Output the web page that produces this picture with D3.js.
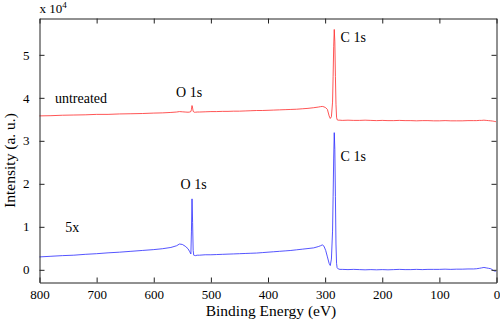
<!DOCTYPE html>
<html>
<head>
<meta charset="utf-8">
<script src="https://cdn.jsdelivr.net/npm/d3@7"></script>
<style>
  body { margin: 0; background: #fff; }
</style>
</head>
<body>
<svg id="chart" width="500" height="320"></svg>
<script>
// binding energy (eV), shared by both spectra
const energy = [800, 780, 760, 740, 720, 700, 680, 660, 640, 620, 600, 585, 570, 560, 555, 550, 545, 540, 537, 535, 534, 533, 532, 531, 530, 529, 527, 524, 520, 510, 500, 490, 480, 470, 460, 450, 440, 430, 420, 410, 400, 390, 380, 370, 360, 350, 340, 330, 320, 312, 308, 305, 302, 299, 296, 293, 291, 289, 287, 286, 285, 284, 283, 282, 281, 280, 279, 277, 274, 270, 260, 250, 240, 230, 220, 210, 200, 190, 180, 170, 160, 150, 140, 130, 120, 110, 100, 90, 80, 70, 60, 50, 40, 35, 30, 26, 22, 18, 14, 10, 7, 5, 3, 1];

// untreated spectrum (counts)
const untreated = [35800, 35850, 35950, 36000, 36050, 36150, 36150, 36250, 36300, 36350, 36450, 36500, 36600, 36700, 36800, 36750, 36700, 36650, 36700, 36800, 37300, 38200, 37600, 36900, 36700, 36650, 36650, 36700, 36700, 36750, 36800, 36800, 36850, 36850, 36900, 36900, 36950, 37000, 37050, 37050, 37100, 37150, 37200, 37250, 37300, 37350, 37450, 37550, 37700, 37850, 37950, 38000, 37900, 37700, 37300, 35800, 35200, 35600, 39000, 45000, 52000, 55900, 53000, 45000, 38500, 35500, 34900, 34800, 34800, 34750, 34800, 34750, 34750, 34800, 34750, 34700, 34750, 34700, 34700, 34750, 34700, 34700, 34650, 34700, 34700, 34650, 34650, 34700, 34650, 34650, 34650, 34700, 34700, 34700, 34750, 34750, 34800, 34750, 34700, 34650, 34600, 34550, 34500, 34450];

// 5x treated spectrum (counts)
const treated5x = [3000, 3150, 3300, 3400, 3600, 3750, 3950, 4100, 4300, 4500, 4700, 4900, 5200, 5600, 6000, 5900, 5500, 4900, 4200, 3700, 9000, 16500, 11000, 4500, 3400, 3350, 3300, 3400, 3400, 3500, 3500, 3550, 3600, 3650, 3700, 3750, 3800, 3850, 3900, 4000, 4100, 4200, 4300, 4400, 4500, 4650, 4800, 4950, 5100, 5400, 5600, 5800, 5500, 4500, 3000, 1500, 1000, 2500, 9000, 17000, 26000, 31900, 28000, 17000, 6000, 1500, 500, 200, 100, 100, 50, 100, 50, 0, 50, 0, 50, 0, 50, 100, 50, 50, 100, 50, 100, 100, 100, 150, 100, 150, 150, 200, 200, 250, 350, 450, 550, 450, 350, 250, 0, -200, -300, -300];

const xTicks = [800, 700, 600, 500, 400, 300, 200, 100, 0];
const yTicks = [0, 10000, 20000, 30000, 40000, 50000];

// peak / sample annotations
const labelText = ['C 1s', 'C 1s', 'O 1s', 'O 1s', 'untreated', '5x'];
const labelEnergy = [273, 273, 561, 553, 773, 755];
const labelValue = [53100, 25200, 40300, 18900, 38700, 8900];

const svg = d3.select('#chart');
const margin = { top: 18.5, right: 3.5, bottom: 37.5, left: 39.5 };
const W = 500, H = 320;
const serifStyle = 'font-family: "Liberation Serif"';

const x = d3.scaleLinear([800, 0], [margin.left, W - margin.right]);
const y = d3.scaleLinear([-2950, 58450], [H - margin.bottom, margin.top]);

const axisColor = '#222';
const tickLen = 5;

// spectra
const line = d3.line()
  .x((d, i) => x(energy[i]))
  .y(d => y(d));

const plot = svg.append('g').attr('class', 'lines');
plot.append('path')
  .attr('d', line(untreated))
  .attr('fill', 'none')
  .attr('stroke', '#ff2a2a')
  .attr('stroke-width', 0.8);
plot.append('path')
  .attr('d', line(treated5x))
  .attr('fill', 'none')
  .attr('stroke', '#2a2aff')
  .attr('stroke-width', 0.8);

// axes, ticks inward, box on
const axes = svg.append('g').attr('class', 'axes');
const styleAxis = g => {
  g.select('.domain').attr('stroke', axisColor);
  g.selectAll('.tick line').attr('stroke', axisColor);
  g.selectAll('.tick text')
    .attr('style', serifStyle)
    .attr('fill', '#000')
    .attr('font-size', 13);
};

axes.append('g')
  .attr('transform', `translate(0,${H - margin.bottom})`)
  .call(d3.axisBottom(x).tickValues(xTicks).tickSizeInner(-tickLen).tickSizeOuter(0).tickPadding(7).tickFormat(d3.format('d')))
  .call(styleAxis);
axes.append('g')
  .attr('transform', `translate(0,${margin.top})`)
  .call(d3.axisTop(x).tickValues(xTicks).tickSizeInner(-tickLen).tickSizeOuter(0).tickFormat(''))
  .call(styleAxis);
axes.append('g')
  .attr('transform', `translate(${margin.left},0)`)
  .call(d3.axisLeft(y).tickValues(yTicks).tickSizeInner(-tickLen).tickSizeOuter(0).tickPadding(10).tickFormat(d => d / 10000))
  .call(styleAxis);
axes.append('g')
  .attr('transform', `translate(${W - margin.right},0)`)
  .call(d3.axisRight(y).tickValues(yTicks).tickSizeInner(-tickLen).tickSizeOuter(0).tickFormat(''))
  .call(styleAxis);

// exponent marker
const expo = svg.append('text')
  .attr('x', margin.left)
  .attr('y', 13)
  .attr('style', serifStyle)
  .attr('font-size', 13)
  .attr('fill', '#000');
expo.append('tspan').text('x 10');
expo.append('tspan').attr('dy', -5).attr('font-size', 9).text('4');

// axis titles
svg.append('text')
  .attr('x', (margin.left + W - margin.right) / 2 + 3)
  .attr('y', 316)
  .attr('text-anchor', 'middle')
  .attr('style', serifStyle)
  .attr('font-size', 15.5)
  .attr('fill', '#000')
  .text('Binding Energy (eV)');
svg.append('text')
  .attr('transform', `translate(15,${(margin.top + H - margin.bottom) / 2 + 10}) rotate(-90)`)
  .attr('text-anchor', 'middle')
  .attr('style', serifStyle)
  .attr('font-size', 15.5)
  .attr('fill', '#000')
  .text('Intensity (a. u.)');

// annotations
svg.append('g').attr('class', 'labels')
  .selectAll('text')
  .data(labelText)
  .join('text')
    .attr('x', (d, i) => x(labelEnergy[i]))
    .attr('y', (d, i) => y(labelValue[i]))
    .attr('style', serifStyle)
    .attr('font-size', 14)
    .attr('fill', '#000')
    .text(d => d);
</script>
</body>
</html>
